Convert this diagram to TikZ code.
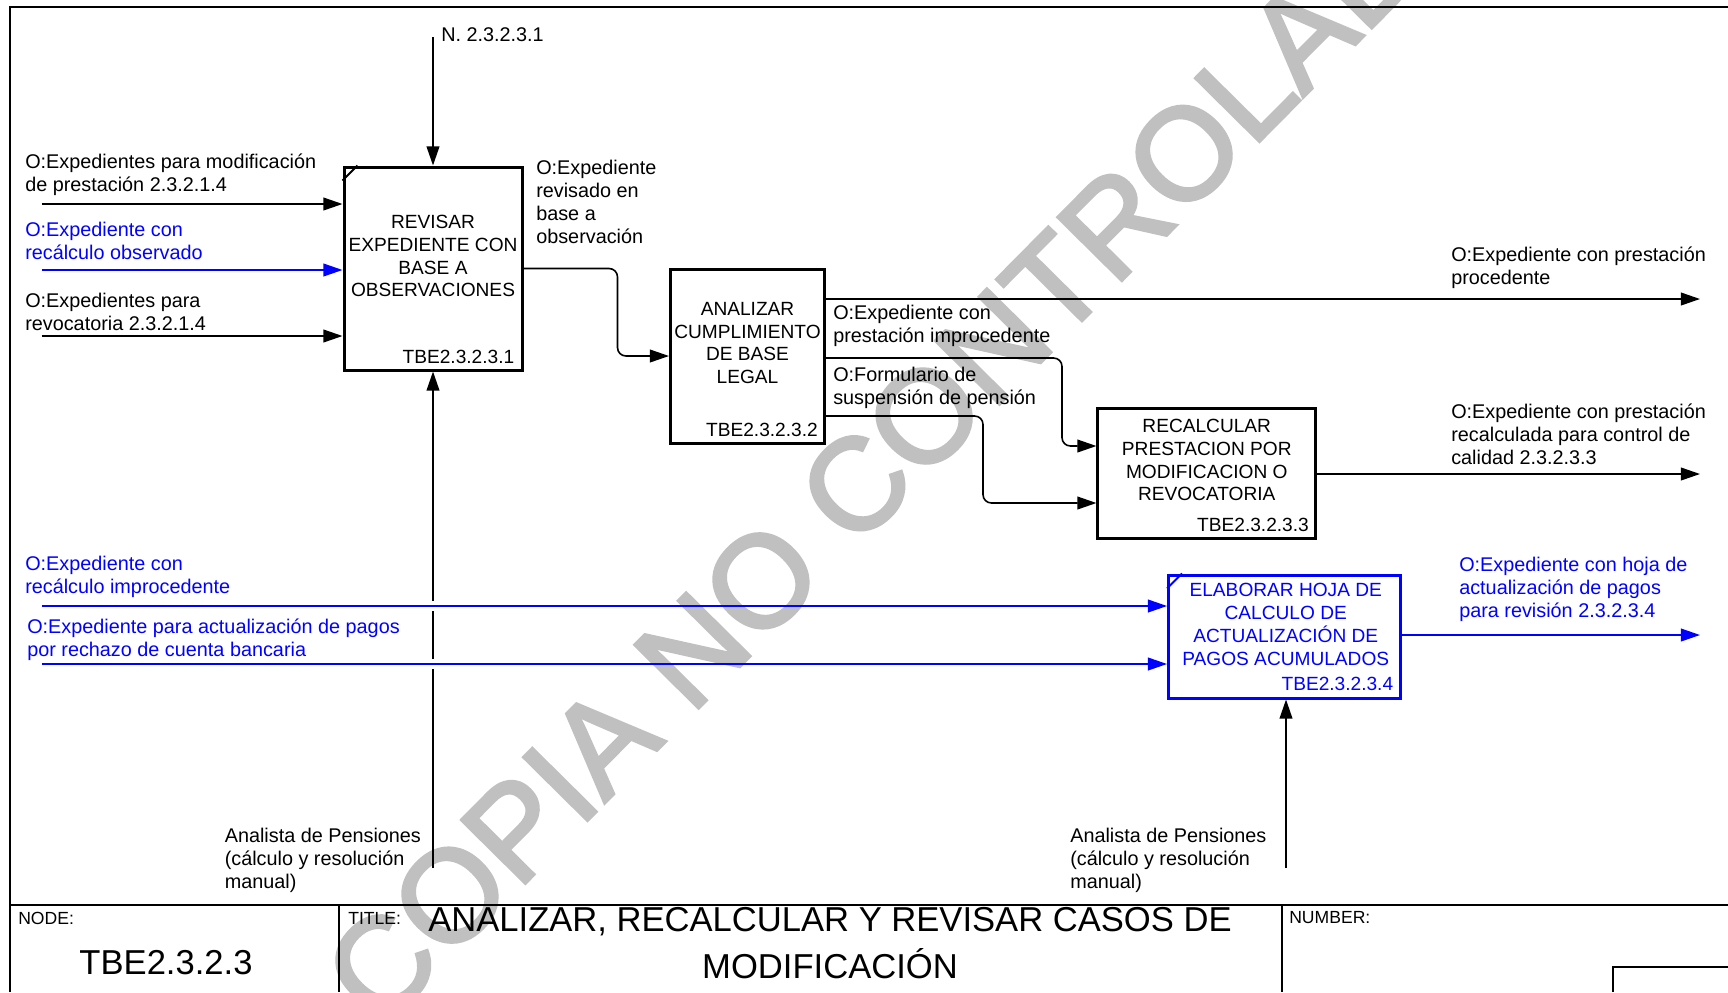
\documentclass[tikz,border=0pt]{standalone}
\usepackage{fontspec}
\setmainfont{Liberation Sans}
\newfontfamily\stampfont[FakeBold=2.5]{Liberation Sans}
\usetikzlibrary{arrows.meta,positioning,calc}
\usepackage{xcolor}
\definecolor{idefblue}{HTML}{0000FF}
\definecolor{stamp}{HTML}{C0C0C0}
\tikzset{
  act/.style={draw,line width=0.75mm,inner sep=0pt},
  acttxt/.style={align=center,inner sep=0pt,font=\fontsize{13.6}{16.3}\selectfont},
  actid/.style={anchor=base east,inner sep=0pt,font=\fontsize{13.6}{16.3}\selectfont},
  lbl/.style={anchor=west,align=left,inner sep=0pt,font=\fontsize{14.1}{16.3}\selectfont},
  hdr/.style={anchor=west,inner sep=0pt,font=\fontsize{12.5}{15}\selectfont},
  bluetxt/.style={text=idefblue},
  wire/.style={line width=0.4mm},
  arr/.style={wire,-{Triangle[length=4.8mm,width=3.2mm]}},
  bluewire/.style={draw=idefblue}
}
\begin{document}
\begin{tikzpicture}[x=0.25mm,y=-0.25mm]
  \useasboundingbox (0,0) rectangle (1728,992);
  \fill[white] (0,0) rectangle (1728,992);
  % watermark
  \begin{scope}
    \clip (0,0) rectangle (1728,992);
    \node[text=stamp,anchor=base west,inner sep=0pt,rotate=45.3,font=\stampfont\fontsize{92.8}{100}\selectfont] (wm) at (380,1030) {COPIA NO CONTROLADA};
  \end{scope}
  % frame and title block
  \draw[line width=0.5mm] (10,992) -- (10,7) -- (1728,7);
  \draw[line width=0.6mm] (10,905) -- (1728,905);
  \draw[line width=0.5mm] (339,905) -- (339,992) (1282,905) -- (1282,992);
  \draw[line width=0.5mm] (1613,992) -- (1613,967) -- (1728,967);
  \node[hdr] (hnode) at (18,918) {NODE:};
  \node[inner sep=0pt,font=\fontsize{24.6}{30}\selectfont] (nodeid) at (166,963) {TBE2.3.2.3};
  \node[hdr] (htitle) at (348,918) {TITLE:};
  \node[align=center,inner sep=0pt,font=\fontsize{24.6}{33.3}\selectfont] (title) at (830,943) {ANALIZAR, RECALCULAR Y REVISAR CASOS DE\\MODIFICACIÓN};
  \node[hdr] (hnum) at (1289,918) {NUMBER:};

  % activities
  \node[act,minimum width=44.5mm,minimum height=50.75mm] (b1) at (433,268.5) {};
  \node[act,minimum width=38.5mm,minimum height=43.5mm] (b2) at (747.5,356) {};
  \node[act,minimum width=54.4mm,minimum height=32.5mm] (b3) at (1206.75,473) {};
  \node[act,draw=idefblue,minimum width=58.1mm,minimum height=30.75mm] (b4) at (1284.75,636.5) {};
  \draw[line width=0.5mm] ($(b1.north west)+(0,15)$) -- ($(b1.north west)+(15,0)$);
  \draw[line width=0.5mm,idefblue] ($(b4.north west)+(0,15)$) -- ($(b4.north west)+(15,0)$);

  \node[acttxt] (t1) at ($(b1.center)+(0,-12.5)$) {REVISAR\\EXPEDIENTE CON\\BASE A\\OBSERVACIONES};
  \node[acttxt] (t2) at ($(b2.center)+(0,-13)$) {ANALIZAR\\CUMPLIMIENTO\\DE BASE\\LEGAL};
  \node[acttxt] (t3) at ($(b3.center)+(0,-13)$) {RECALCULAR\\PRESTACION POR\\MODIFICACION O\\REVOCATORIA};
  \node[acttxt,bluetxt] (t4) at ($(b4.center)+(1,-12)$) {ELABORAR HOJA DE\\CALCULO DE\\ACTUALIZACIÓN DE\\PAGOS ACUMULADOS};
  \node[actid] (id1) at ($(b1.south east)+(-9,-8)$) {TBE2.3.2.3.1};
  \node[actid] (id2) at ($(b2.south east)+(-8,-8)$) {TBE2.3.2.3.2};
  \node[actid] (id3) at ($(b3.south east)+(-8,-8)$) {TBE2.3.2.3.3};
  \node[actid,bluetxt] (id4) at ($(b4.south east)+(-9,-9)$) {TBE2.3.2.3.4};

  % arrow labels
  \node[lbl] (n1) at (441,35) {N. 2.3.2.3.1};
  \node[lbl] (l1) at (25,174.5) {O:Expedientes para modificación\\de prestación 2.3.2.1.4};
  \node[lbl,bluetxt] (l2) at (25,240.5) {O:Expediente con\\recálculo observado};
  \node[lbl] (l3) at (25,311.5) {O:Expedientes para\\revocatoria 2.3.2.1.4};
  \node[lbl] (l4) at (536,202) {O:Expediente\\revisado en\\base a\\observación};
  \node[lbl] (l5) at (833,326) {O:Expediente con\\prestación improcedente};
  \node[lbl] (l6) at (833,387.5) {O:Formulario de\\suspensión de pensión};
  \node[lbl] (l7) at (1451,268) {O:Expediente con prestación\\procedente};
  \node[lbl] (l8) at (1451,434) {O:Expediente con prestación\\recalculada para control de\\calidad 2.3.2.3.3};
  \node[lbl,bluetxt] (l9) at (25,577) {O:Expediente con\\recálculo improcedente};
  \node[lbl,bluetxt] (l10) at (27,639.5) {O:Expediente para actualización de pagos\\por rechazo de cuenta bancaria};
  \node[lbl,bluetxt] (l11) at (1459,589) {O:Expediente con hoja de\\actualización de pagos\\para revisión 2.3.2.3.4};
  \node[lbl] (l12) at (224.5,860.5) {Analista de Pensiones\\(cálculo y resolución\\manual)};
  \node[lbl] (l13) at (1070,860) {Analista de Pensiones\\(cálculo y resolución\\manual)};

  % free ends
  \coordinate (c1) at (433,37);
  \coordinate (i1) at (41.5,204);
  \coordinate (i2) at (41.5,270);
  \coordinate (i3) at (41.5,336);
  \coordinate (i4) at (41.5,606);
  \coordinate (i5) at (41.5,664);
  \coordinate (o1) at (1700,299);
  \coordinate (o2) at (1700,474);
  \coordinate (o3) at (1700,635);
  \coordinate (m1) at (433,868);
  \coordinate (m2) at (1286,868);

  % connectors
  \draw[arr] (c1) -- (b1.north);
  \draw[arr] (i1) -- (i1 -| b1.west);
  \draw[arr,bluewire] (i2) -- (i2 -| b1.west);
  \draw[arr] (i3) -- (i3 -| b1.west);
  \draw[arr,rounded corners=6] (b1.east) -- ++(94,0) |- (b2.west);
  \draw[arr] (o1 -| b2.east) -- (o1);
  \draw[arr,rounded corners=6] ($(b2.east)+(0,2)$) -- ++(236,0) |- ($(b3.west)+(0,-27)$);
  \draw[arr,rounded corners=6] ($(b2.east)+(0,60)$) -- ++(157,0) |- ($(b3.west)+(0,30)$);
  \draw[arr] (o2 -| b3.east) -- (o2);
  \draw[arr,bluewire] (i4) -- (i4 -| b4.west);
  \draw[arr,bluewire] (i5) -- (i5 -| b4.west);
  \draw[arr,bluewire] (o3 -| b4.east) -- (o3);
  \draw[wire] (m1) -- ($(m1 |- i5)+(0,5)$);
  \draw[wire] ($(m1 |- i5)+(0,-5)$) -- ($(m1 |- i4)+(0,5)$);
  \draw[arr] ($(m1 |- i4)+(0,-5)$) -- (b1.south);
  \draw[arr] (m2) -- (m2 |- b4.south);
\end{tikzpicture}
\end{document}
